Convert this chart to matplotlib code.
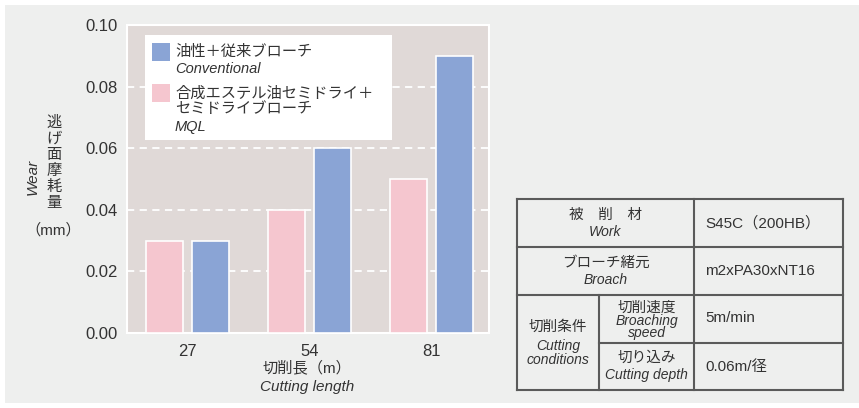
import matplotlib
matplotlib.use("Agg")
import matplotlib.pyplot as plt
from matplotlib.patches import Rectangle
from matplotlib.lines import Line2D

plt.rcParams['font.family'] = ['Liberation Sans', 'Noto Sans CJK JP', 'DejaVu Sans']

# ---- data ----
lengths = ['27', '54', '81']
mql = [0.03, 0.04, 0.05]
conventional = [0.03, 0.06, 0.09]
yticks = [0.00, 0.02, 0.04, 0.06, 0.08, 0.10]
legend_labels = [('油性＋従来ブローチ', 'Conventional'),
                 ('合成エステル油セミドライ＋\nセミドライブローチ', 'MQL')]
table_rows = [('被　削　材', 'Work', 'S45C（200HB）'),
              ('ブローチ緒元', 'Broach', 'm2xPA30xNT16')]
cond_label = ('切削条件', 'Cutting\nconditions')
cond_rows = [('切削速度', 'Broaching\nspeed', '5m/min'),
             ('切り込み', 'Cutting depth', '0.06m/径')]

W, H = 859, 408
PINK = '#f5c6cf'
BLUE = '#8aa4d5'
AXBG = '#e0d9d7'
FIGBG = '#eeefee'
TXT = '#333333'
LINE = '#5a5a5a'

fig = plt.figure(figsize=(W / 100, H / 100), dpi=100)
fig.patch.set_facecolor('white')

def fx(x):
    return x / W

def fy(y):
    return 1 - y / H

# outer gray panel
fig.patches.append(Rectangle((fx(5), fy(403)), fx(854), 398 / H,
                             transform=fig.transFigure, facecolor=FIGBG,
                             edgecolor='none', zorder=-10))

ax = fig.add_axes([fx(127), fy(333), (489 - 127) / W, (333 - 25) / H])
ax.set_facecolor(AXBG)
x = list(range(len(lengths)))
bw = 0.303
off = 0.189
ax.bar([i - off for i in x], mql, width=bw, color=PINK, edgecolor='white',
       linewidth=1.2, zorder=3)
ax.bar([i + off for i in x], conventional, width=bw, color=BLUE,
       edgecolor='white', linewidth=1.2, zorder=3)
ax.set_xlim(-0.496, 2.47)
ax.set_ylim(0, 0.10)
ax.set_yticks(yticks)
ax.set_yticklabels([f'{v:.2f}' for v in yticks])
ax.set_xticks(x)
ax.set_xticklabels(lengths)
ax.tick_params(length=0, labelsize=12, colors=TXT, pad=7)
ax.tick_params(axis='x', pad=8)
for v in yticks[1:-1]:
    ax.axhline(v, color='white', lw=1.3, ls=(0, (4, 3)), zorder=1)
for s in ax.spines.values():
    s.set_color('white')
    s.set_linewidth(1.5)

# axis labels
fig.text(fx(307), fy(368), '切削長（m）', ha='center', va='center',
         fontsize=11, color=TXT)
fig.text(fx(307), fy(387), 'Cutting length', ha='center', va='center',
         fontsize=11, color=TXT, style='italic')
fig.text(fx(33), fy(177), 'Wear', ha='center', va='center', rotation=90,
         fontsize=11, color=TXT, style='italic')
ylab = '逃げ面摩耗量'
for i, ch in enumerate(ylab):
    fig.text(fx(54), fy(123 + i * 16), ch, ha='center', va='center',
             fontsize=11, color=TXT)
fig.text(fx(53), fy(230), '（mm）', ha='center', va='center',
         fontsize=11, color=TXT)

# legend
fig.patches.append(Rectangle((fx(145), fy(140)), (392 - 145) / W, 105 / H,
                             transform=fig.transFigure, facecolor='white',
                             edgecolor='none', zorder=5))
fig.patches.append(Rectangle((fx(152), fy(61)), 18 / W, 18 / H,
                             transform=fig.transFigure, facecolor=BLUE,
                             edgecolor='none', zorder=6))
fig.patches.append(Rectangle((fx(152), fy(102)), 18 / W, 18 / H,
                             transform=fig.transFigure, facecolor=PINK,
                             edgecolor='none', zorder=6))
fig.text(fx(175), fy(52), legend_labels[0][0], ha='left', va='center',
         fontsize=11, color=TXT, zorder=7)
fig.text(fx(175), fy(69), legend_labels[0][1], ha='left', va='center',
         fontsize=10.5, color=TXT, style='italic', zorder=7)
fig.text(fx(175), fy(101), legend_labels[1][0], ha='left', va='center',
         fontsize=11, color=TXT, zorder=7, linespacing=1.15)
fig.text(fx(175), fy(127), legend_labels[1][1], ha='left', va='center',
         fontsize=10.5, color=TXT, style='italic', zorder=7)

# table
L, C1, C2, R = 517, 599, 694, 843
rows_y = [199, 247, 295, 343, 390]

def hline(y, x0, x1):
    fig.add_artist(Line2D([fx(x0), fx(x1)], [fy(y), fy(y)], color=LINE,
                          lw=1.5, transform=fig.transFigure))

def vline(x, y0, y1):
    fig.add_artist(Line2D([fx(x), fx(x)], [fy(y0), fy(y1)], color=LINE,
                          lw=1.5, transform=fig.transFigure))

for y in rows_y[:3] + [rows_y[4]]:
    hline(y, L, R)
hline(rows_y[3], C1, R)
vline(L, rows_y[0], rows_y[4])
vline(R, rows_y[0], rows_y[4])
vline(C2, rows_y[0], rows_y[4])
vline(C1, rows_y[2], rows_y[4])

cx = (L + C2) / 2
for (jp, en, val), y0 in zip(table_rows, rows_y[:2]):
    fig.text(fx(cx), fy(y0 + 16), jp, ha='center', va='center', fontsize=10.5,
             color=TXT)
    fig.text(fx(cx), fy(y0 + 33), en, ha='center', va='center', fontsize=10,
             color=TXT, style='italic')
    fig.text(fx(705), fy(y0 + 24), val, ha='left', va='center', fontsize=11,
             color=TXT)

fig.text(fx((L + C1) / 2), fy(327), cond_label[0], ha='center', va='center',
         fontsize=10.5, color=TXT)
fig.text(fx((L + C1) / 2), fy(353), cond_label[1], ha='center', va='center',
         fontsize=10, color=TXT, style='italic', linespacing=0.95)

cx2 = (C1 + C2) / 2
fig.text(fx(cx2), fy(308), cond_rows[0][0], ha='center', va='center',
         fontsize=10.5, color=TXT)
fig.text(fx(cx2), fy(327), cond_rows[0][1], ha='center', va='center',
         fontsize=10, color=TXT, style='italic', linespacing=0.8)
fig.text(fx(705), fy(318), cond_rows[0][2], ha='left', va='center',
         fontsize=11, color=TXT)
fig.text(fx(cx2), fy(358), cond_rows[1][0], ha='center', va='center',
         fontsize=10.5, color=TXT)
fig.text(fx(cx2), fy(375), cond_rows[1][1], ha='center', va='center',
         fontsize=10, color=TXT, style='italic')
fig.text(fx(705), fy(367), cond_rows[1][2], ha='left', va='center',
         fontsize=11, color=TXT)

fig.savefig('out.png', dpi=100, facecolor=fig.get_facecolor())
